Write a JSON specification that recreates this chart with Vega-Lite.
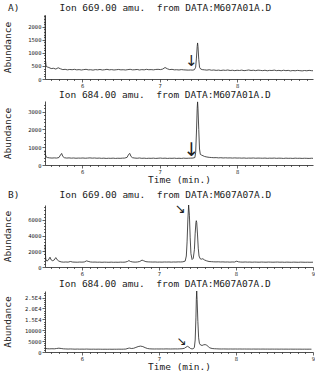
{
"$schema": "https://vega.github.io/schema/vega-lite/v6.json",
"padding": {"left": 2, "top": 2, "right": 1, "bottom": 0},
"spacing": 6,
"datasets": {
"a1": [{"t":5.52,"v":2450},{"t":5.523,"v":1500},{"t":5.527,"v":700},{"t":5.535,"v":480},{"t":5.55,"v":460},{"t":5.57,"v":440},{"t":5.6,"v":400},{"t":5.63,"v":410},{"t":5.66,"v":380},{"t":5.69,"v":430},{"t":5.72,"v":390},{"t":5.75,"v":360},{"t":5.78,"v":370},{"t":5.81,"v":350},{"t":5.84,"v":365},{"t":5.87,"v":355},{"t":5.9,"v":370},{"t":5.93,"v":350},{"t":5.96,"v":360},{"t":5.99,"v":345},{"t":6.02,"v":360},{"t":6.05,"v":370},{"t":6.08,"v":350},{"t":6.11,"v":355},{"t":6.14,"v":340},{"t":6.17,"v":360},{"t":6.2,"v":350},{"t":6.23,"v":365},{"t":6.26,"v":345},{"t":6.29,"v":355},{"t":6.32,"v":370},{"t":6.35,"v":350},{"t":6.38,"v":360},{"t":6.41,"v":345},{"t":6.44,"v":355},{"t":6.47,"v":365},{"t":6.5,"v":350},{"t":6.53,"v":355},{"t":6.56,"v":345},{"t":6.59,"v":360},{"t":6.62,"v":370},{"t":6.65,"v":350},{"t":6.68,"v":355},{"t":6.71,"v":365},{"t":6.74,"v":345},{"t":6.77,"v":360},{"t":6.8,"v":350},{"t":6.83,"v":370},{"t":6.86,"v":355},{"t":6.89,"v":360},{"t":6.92,"v":350},{"t":6.95,"v":365},{"t":6.98,"v":370},{"t":7.01,"v":360},{"t":7.04,"v":380},{"t":7.07,"v":440},{"t":7.1,"v":390},{"t":7.13,"v":360},{"t":7.16,"v":370},{"t":7.19,"v":350},{"t":7.22,"v":355},{"t":7.25,"v":345},{"t":7.28,"v":360},{"t":7.31,"v":350},{"t":7.34,"v":345},{"t":7.37,"v":340},{"t":7.4,"v":345},{"t":7.43,"v":340},{"t":7.45,"v":360},{"t":7.465,"v":450},{"t":7.475,"v":800},{"t":7.485,"v":1250},{"t":7.49,"v":1380},{"t":7.495,"v":1250},{"t":7.505,"v":750},{"t":7.515,"v":450},{"t":7.53,"v":380},{"t":7.55,"v":360},{"t":7.58,"v":350},{"t":7.61,"v":340},{"t":7.64,"v":355},{"t":7.67,"v":335},{"t":7.7,"v":345},{"t":7.73,"v":330},{"t":7.76,"v":340},{"t":7.79,"v":325},{"t":7.82,"v":340},{"t":7.85,"v":330},{"t":7.88,"v":345},{"t":7.91,"v":325},{"t":7.94,"v":335},{"t":7.97,"v":320},{"t":8.0,"v":335},{"t":8.03,"v":325},{"t":8.06,"v":340},{"t":8.09,"v":320},{"t":8.12,"v":330},{"t":8.15,"v":345},{"t":8.18,"v":325},{"t":8.21,"v":335},{"t":8.24,"v":320},{"t":8.27,"v":340},{"t":8.3,"v":330},{"t":8.33,"v":320},{"t":8.36,"v":335},{"t":8.39,"v":315},{"t":8.42,"v":330},{"t":8.45,"v":325},{"t":8.48,"v":340},{"t":8.51,"v":320},{"t":8.54,"v":330},{"t":8.57,"v":315},{"t":8.6,"v":335},{"t":8.63,"v":320},{"t":8.66,"v":330},{"t":8.69,"v":310},{"t":8.72,"v":325},{"t":8.75,"v":315},{"t":8.78,"v":330},{"t":8.81,"v":320},{"t":8.84,"v":310},{"t":8.87,"v":325},{"t":8.9,"v":315},{"t":8.93,"v":330},{"t":8.96,"v":320},{"t":8.98,"v":315}],
"a2": [{"t":5.52,"v":820},{"t":5.525,"v":600},{"t":5.535,"v":450},{"t":5.55,"v":420},{"t":5.58,"v":400},{"t":5.61,"v":390},{"t":5.64,"v":400},{"t":5.67,"v":390},{"t":5.7,"v":420},{"t":5.72,"v":560},{"t":5.735,"v":650},{"t":5.75,"v":480},{"t":5.77,"v":410},{"t":5.8,"v":390},{"t":5.83,"v":400},{"t":5.86,"v":385},{"t":5.89,"v":395},{"t":5.92,"v":380},{"t":5.95,"v":390},{"t":5.98,"v":385},{"t":6.01,"v":395},{"t":6.04,"v":380},{"t":6.07,"v":390},{"t":6.1,"v":400},{"t":6.13,"v":385},{"t":6.16,"v":395},{"t":6.19,"v":380},{"t":6.22,"v":390},{"t":6.25,"v":375},{"t":6.28,"v":385},{"t":6.31,"v":370},{"t":6.34,"v":380},{"t":6.37,"v":375},{"t":6.4,"v":385},{"t":6.43,"v":370},{"t":6.46,"v":380},{"t":6.49,"v":375},{"t":6.52,"v":385},{"t":6.55,"v":390},{"t":6.58,"v":430},{"t":6.6,"v":600},{"t":6.615,"v":650},{"t":6.63,"v":480},{"t":6.65,"v":410},{"t":6.68,"v":390},{"t":6.71,"v":380},{"t":6.74,"v":395},{"t":6.77,"v":375},{"t":6.8,"v":385},{"t":6.83,"v":370},{"t":6.86,"v":380},{"t":6.89,"v":375},{"t":6.92,"v":385},{"t":6.95,"v":370},{"t":6.98,"v":380},{"t":7.01,"v":390},{"t":7.04,"v":375},{"t":7.07,"v":385},{"t":7.1,"v":370},{"t":7.13,"v":380},{"t":7.16,"v":375},{"t":7.19,"v":385},{"t":7.22,"v":370},{"t":7.25,"v":380},{"t":7.28,"v":370},{"t":7.31,"v":385},{"t":7.34,"v":375},{"t":7.37,"v":380},{"t":7.4,"v":385},{"t":7.43,"v":390},{"t":7.455,"v":420},{"t":7.465,"v":700},{"t":7.475,"v":1800},{"t":7.485,"v":3200},{"t":7.49,"v":3550},{"t":7.495,"v":3200},{"t":7.505,"v":2000},{"t":7.515,"v":900},{"t":7.525,"v":600},{"t":7.54,"v":560},{"t":7.56,"v":520},{"t":7.58,"v":480},{"t":7.61,"v":450},{"t":7.64,"v":430},{"t":7.67,"v":420},{"t":7.7,"v":410},{"t":7.73,"v":415},{"t":7.76,"v":400},{"t":7.79,"v":410},{"t":7.82,"v":395},{"t":7.85,"v":405},{"t":7.88,"v":395},{"t":7.91,"v":400},{"t":7.94,"v":390},{"t":7.97,"v":400},{"t":8.0,"v":390},{"t":8.03,"v":395},{"t":8.06,"v":385},{"t":8.09,"v":395},{"t":8.12,"v":380},{"t":8.15,"v":390},{"t":8.18,"v":385},{"t":8.21,"v":395},{"t":8.24,"v":380},{"t":8.27,"v":390},{"t":8.3,"v":385},{"t":8.33,"v":380},{"t":8.36,"v":390},{"t":8.39,"v":375},{"t":8.42,"v":385},{"t":8.45,"v":380},{"t":8.48,"v":390},{"t":8.51,"v":375},{"t":8.54,"v":385},{"t":8.57,"v":380},{"t":8.6,"v":370},{"t":8.63,"v":385},{"t":8.66,"v":375},{"t":8.69,"v":380},{"t":8.72,"v":370},{"t":8.75,"v":385},{"t":8.78,"v":375},{"t":8.81,"v":380},{"t":8.84,"v":370},{"t":8.87,"v":380},{"t":8.9,"v":375},{"t":8.93,"v":370},{"t":8.96,"v":380},{"t":8.98,"v":375}],
"b1": [{"t":5.52,"v":2800},{"t":5.525,"v":1800},{"t":5.53,"v":1000},{"t":5.545,"v":750},{"t":5.565,"v":900},{"t":5.585,"v":1250},{"t":5.6,"v":900},{"t":5.62,"v":800},{"t":5.64,"v":900},{"t":5.66,"v":1200},{"t":5.68,"v":900},{"t":5.7,"v":750},{"t":5.73,"v":650},{"t":5.76,"v":620},{"t":5.79,"v":640},{"t":5.82,"v":620},{"t":5.85,"v":700},{"t":5.88,"v":630},{"t":5.91,"v":620},{"t":5.94,"v":610},{"t":5.97,"v":630},{"t":6.0,"v":620},{"t":6.03,"v":640},{"t":6.06,"v":780},{"t":6.08,"v":720},{"t":6.11,"v":640},{"t":6.14,"v":620},{"t":6.17,"v":630},{"t":6.2,"v":610},{"t":6.23,"v":620},{"t":6.26,"v":600},{"t":6.29,"v":620},{"t":6.32,"v":610},{"t":6.35,"v":600},{"t":6.38,"v":620},{"t":6.41,"v":600},{"t":6.44,"v":610},{"t":6.47,"v":600},{"t":6.5,"v":620},{"t":6.53,"v":610},{"t":6.56,"v":620},{"t":6.59,"v":700},{"t":6.61,"v":820},{"t":6.63,"v":700},{"t":6.66,"v":640},{"t":6.69,"v":620},{"t":6.72,"v":640},{"t":6.75,"v":700},{"t":6.78,"v":880},{"t":6.8,"v":800},{"t":6.83,"v":680},{"t":6.86,"v":650},{"t":6.89,"v":640},{"t":6.92,"v":630},{"t":6.95,"v":640},{"t":6.98,"v":620},{"t":7.01,"v":630},{"t":7.04,"v":620},{"t":7.07,"v":640},{"t":7.1,"v":630},{"t":7.13,"v":640},{"t":7.16,"v":620},{"t":7.19,"v":640},{"t":7.22,"v":630},{"t":7.25,"v":650},{"t":7.28,"v":640},{"t":7.31,"v":660},{"t":7.34,"v":750},{"t":7.355,"v":1400},{"t":7.365,"v":3200},{"t":7.375,"v":6000},{"t":7.385,"v":7900},{"t":7.395,"v":6600},{"t":7.405,"v":3800},{"t":7.415,"v":1700},{"t":7.43,"v":950},{"t":7.445,"v":1100},{"t":7.46,"v":2200},{"t":7.47,"v":4300},{"t":7.48,"v":5700},{"t":7.485,"v":5900},{"t":7.49,"v":5700},{"t":7.5,"v":4200},{"t":7.51,"v":2400},{"t":7.52,"v":1400},{"t":7.535,"v":1050},{"t":7.55,"v":1000},{"t":7.57,"v":1050},{"t":7.59,"v":900},{"t":7.62,"v":780},{"t":7.65,"v":700},{"t":7.68,"v":680},{"t":7.71,"v":660},{"t":7.74,"v":650},{"t":7.77,"v":660},{"t":7.8,"v":640},{"t":7.83,"v":650},{"t":7.86,"v":630},{"t":7.89,"v":640},{"t":7.92,"v":620},{"t":7.95,"v":640},{"t":7.98,"v":630},{"t":8.01,"v":740},{"t":8.03,"v":660},{"t":8.06,"v":630},{"t":8.09,"v":620},{"t":8.12,"v":640},{"t":8.15,"v":620},{"t":8.18,"v":630},{"t":8.21,"v":610},{"t":8.24,"v":630},{"t":8.27,"v":620},{"t":8.3,"v":610},{"t":8.33,"v":630},{"t":8.36,"v":620},{"t":8.39,"v":610},{"t":8.42,"v":630},{"t":8.45,"v":620},{"t":8.48,"v":610},{"t":8.51,"v":620},{"t":8.54,"v":630},{"t":8.57,"v":610},{"t":8.6,"v":620},{"t":8.63,"v":600},{"t":8.66,"v":620},{"t":8.69,"v":610},{"t":8.72,"v":600},{"t":8.75,"v":620},{"t":8.78,"v":610},{"t":8.81,"v":600},{"t":8.84,"v":620},{"t":8.87,"v":610},{"t":8.9,"v":600},{"t":8.93,"v":610},{"t":8.96,"v":600},{"t":9.0,"v":610}],
"b2": [{"t":5.52,"v":2000},{"t":5.53,"v":1600},{"t":5.55,"v":1500},{"t":5.58,"v":1450},{"t":5.61,"v":1500},{"t":5.64,"v":1450},{"t":5.67,"v":1600},{"t":5.7,"v":1750},{"t":5.73,"v":1600},{"t":5.76,"v":1450},{"t":5.79,"v":1400},{"t":5.82,"v":1350},{"t":5.85,"v":1400},{"t":5.88,"v":1350},{"t":5.91,"v":1300},{"t":5.94,"v":1350},{"t":5.97,"v":1300},{"t":6.0,"v":1320},{"t":6.03,"v":1300},{"t":6.06,"v":1350},{"t":6.09,"v":1300},{"t":6.12,"v":1280},{"t":6.15,"v":1300},{"t":6.18,"v":1270},{"t":6.21,"v":1300},{"t":6.24,"v":1280},{"t":6.27,"v":1260},{"t":6.3,"v":1280},{"t":6.33,"v":1260},{"t":6.36,"v":1280},{"t":6.39,"v":1260},{"t":6.42,"v":1280},{"t":6.45,"v":1270},{"t":6.48,"v":1300},{"t":6.51,"v":1280},{"t":6.54,"v":1300},{"t":6.57,"v":1350},{"t":6.6,"v":1700},{"t":6.62,"v":1800},{"t":6.64,"v":1600},{"t":6.67,"v":1700},{"t":6.7,"v":2100},{"t":6.73,"v":2500},{"t":6.76,"v":2700},{"t":6.79,"v":2500},{"t":6.82,"v":2000},{"t":6.85,"v":1600},{"t":6.88,"v":1450},{"t":6.91,"v":1400},{"t":6.94,"v":1380},{"t":6.97,"v":1400},{"t":7.0,"v":1380},{"t":7.03,"v":1400},{"t":7.06,"v":1380},{"t":7.09,"v":1420},{"t":7.12,"v":1400},{"t":7.15,"v":1380},{"t":7.18,"v":1400},{"t":7.21,"v":1420},{"t":7.24,"v":1400},{"t":7.27,"v":1450},{"t":7.3,"v":1500},{"t":7.33,"v":1700},{"t":7.35,"v":2200},{"t":7.37,"v":2600},{"t":7.39,"v":2200},{"t":7.41,"v":1600},{"t":7.43,"v":1400},{"t":7.45,"v":1600},{"t":7.46,"v":2200},{"t":7.47,"v":5500},{"t":7.48,"v":16000},{"t":7.485,"v":24000},{"t":7.49,"v":28000},{"t":7.495,"v":24000},{"t":7.505,"v":14000},{"t":7.515,"v":6500},{"t":7.525,"v":4000},{"t":7.54,"v":3200},{"t":7.56,"v":3000},{"t":7.58,"v":3300},{"t":7.6,"v":3400},{"t":7.62,"v":3100},{"t":7.64,"v":2500},{"t":7.66,"v":1900},{"t":7.69,"v":1600},{"t":7.72,"v":1500},{"t":7.75,"v":1450},{"t":7.78,"v":1400},{"t":7.81,"v":1380},{"t":7.84,"v":1400},{"t":7.87,"v":1380},{"t":7.9,"v":1360},{"t":7.93,"v":1380},{"t":7.96,"v":1360},{"t":7.99,"v":1380},{"t":8.02,"v":1360},{"t":8.05,"v":1380},{"t":8.08,"v":1350},{"t":8.11,"v":1370},{"t":8.14,"v":1350},{"t":8.17,"v":1360},{"t":8.2,"v":1340},{"t":8.23,"v":1360},{"t":8.26,"v":1340},{"t":8.29,"v":1350},{"t":8.32,"v":1330},{"t":8.35,"v":1350},{"t":8.38,"v":1330},{"t":8.41,"v":1340},{"t":8.44,"v":1320},{"t":8.47,"v":1340},{"t":8.5,"v":1320},{"t":8.53,"v":1330},{"t":8.56,"v":1310},{"t":8.59,"v":1330},{"t":8.62,"v":1310},{"t":8.65,"v":1320},{"t":8.68,"v":1300},{"t":8.71,"v":1320},{"t":8.74,"v":1300},{"t":8.77,"v":1310},{"t":8.8,"v":1300},{"t":8.83,"v":1310},{"t":8.86,"v":1290},{"t":8.89,"v":1300},{"t":8.92,"v":1290},{"t":8.95,"v":1300},{"t":8.98,"v":1290}]
},
"vconcat": [
{
"spacing": 0,
"vconcat": [
{
"width": 268, "height": 64,
"title": {"text": "A)\u00a0\u00a0\u00a0\u00a0\u00a0\u00a0\u00a0Ion 669.00 amu.\u00a0 from DATA:M607A01A.D", "dx": -37},
"resolve": {"axis": {"x": "independent", "y": "independent"}},
"layer": [
{"data": {"name": "a1"}, "mark": {"type": "line", "stroke": "#222", "strokeWidth": 0.8},
"encoding": {
"x": {"field": "t", "type": "quantitative", "scale": {"domain": [5.52, 8.98], "nice": false, "zero": false}, "axis": {"title": null, "orient": "bottom", "values": [6, 7, 8], "format": "d"}},
"y": {"field": "v", "type": "quantitative", "scale": {"domain": [0, 2450], "nice": false}, "axis": {"title": "Abundance", "orient": "left", "values": [0, 500, 1000, 1500, 2000], "format": "d"}}
}},
{"data": {"values": [{"t": 7.41, "v": 480, "s": "↓"}]}, "mark": {"type": "text", "font": "DejaVu Sans", "fontSize": 15, "baseline": "alphabetic", "color": "#222"},
"encoding": {
"x": {"field": "t", "type": "quantitative", "axis": {"title": null, "orient": "bottom", "labels": false, "domain": false, "tickSize": 1.5, "values": [5.6,5.7,5.8,5.9,6.1,6.2,6.3,6.4,6.5,6.6,6.7,6.8,6.9,7.1,7.2,7.3,7.4,7.5,7.6,7.7,7.8,7.9,8.1,8.2,8.3,8.4,8.5,8.6,8.7,8.8,8.9]}},
"y": {"field": "v", "type": "quantitative", "axis": {"title": null, "orient": "left", "labels": false, "domain": false, "tickSize": 1.5, "values": [100,200,300,400,600,700,800,900,1100,1200,1300,1400,1600,1700,1800,1900,2100,2200,2300,2400]}},
"text": {"field": "s"}}}
]
},
{
"width": 268, "height": 64,
"title": {"text": "Ion 684.00 amu.\u00a0 from DATA:M607A01A.D", "dx": 14},
"resolve": {"axis": {"x": "independent", "y": "independent"}},
"layer": [
{"data": {"name": "a2"}, "mark": {"type": "line", "stroke": "#222", "strokeWidth": 0.8},
"encoding": {
"x": {"field": "t", "type": "quantitative", "scale": {"domain": [5.52, 8.98], "nice": false, "zero": false}, "axis": {"title": "Time (min.)", "orient": "bottom", "values": [6, 7, 8], "format": "d"}},
"y": {"field": "v", "type": "quantitative", "scale": {"domain": [0, 3600], "nice": false}, "axis": {"title": "Abundance", "orient": "left", "values": [0, 1000, 2000, 3000], "format": "d"}}
}},
{"data": {"values": [{"t": 7.41, "v": 500, "s": "↓"}]}, "mark": {"type": "text", "font": "DejaVu Sans", "fontSize": 19, "baseline": "alphabetic", "color": "#222"},
"encoding": {
"x": {"field": "t", "type": "quantitative", "axis": {"title": null, "orient": "bottom", "labels": false, "domain": false, "tickSize": 1.5, "values": [5.6,5.7,5.8,5.9,6.1,6.2,6.3,6.4,6.5,6.6,6.7,6.8,6.9,7.1,7.2,7.3,7.4,7.5,7.6,7.7,7.8,7.9,8.1,8.2,8.3,8.4,8.5,8.6,8.7,8.8,8.9]}},
"y": {"field": "v", "type": "quantitative", "axis": {"title": null, "orient": "left", "labels": false, "domain": false, "tickSize": 1.5, "values": [200,400,600,800,1200,1400,1600,1800,2200,2400,2600,2800,3200,3400]}},
"text": {"field": "s"}}}
]
}
]
},
{
"spacing": 1,
"vconcat": [
{
"width": 268, "height": 62,
"title": {"text": "B)\u00a0\u00a0\u00a0\u00a0\u00a0\u00a0\u00a0Ion 669.00 amu.\u00a0 from DATA:M607A07A.D", "dx": -37, "offset": 3},
"resolve": {"axis": {"x": "independent", "y": "independent"}},
"layer": [
{"data": {"name": "b1"}, "mark": {"type": "line", "stroke": "#222", "strokeWidth": 0.8},
"encoding": {
"x": {"field": "t", "type": "quantitative", "scale": {"domain": [5.52, 9.0], "nice": false, "zero": false}, "axis": {"title": null, "orient": "bottom", "values": [6, 7, 8, 9], "format": "d"}},
"y": {"field": "v", "type": "quantitative", "scale": {"domain": [0, 7900], "nice": false}, "axis": {"title": "Abundance", "orient": "left", "values": [0, 2000, 4000, 6000], "format": "d"}}
}},
{"data": {"values": [{"t": 7.345, "v": 6900, "s": "↘"}]}, "mark": {"type": "text", "font": "DejaVu Sans", "fontSize": 13, "baseline": "alphabetic", "align": "right", "color": "#222"},
"encoding": {
"x": {"field": "t", "type": "quantitative", "axis": {"title": null, "orient": "bottom", "labels": false, "domain": false, "tickSize": 1.5, "values": [5.6,5.7,5.8,5.9,6.1,6.2,6.3,6.4,6.5,6.6,6.7,6.8,6.9,7.1,7.2,7.3,7.4,7.5,7.6,7.7,7.8,7.9,8.1,8.2,8.3,8.4,8.5,8.6,8.7,8.8,8.9]}},
"y": {"field": "v", "type": "quantitative", "axis": {"title": null, "orient": "left", "labels": false, "domain": false, "tickSize": 1.5, "values": [400,800,1200,1600,2400,2800,3200,3600,4400,4800,5200,5600,6400,6800,7200,7600]}},
"text": {"field": "s"}}}
]
},
{
"width": 268, "height": 61,
"title": {"text": "Ion 684.00 amu.\u00a0 from DATA:M607A07A.D", "dx": 14},
"resolve": {"axis": {"x": "independent", "y": "independent"}},
"layer": [
{"data": {"name": "b2"}, "mark": {"type": "line", "stroke": "#222", "strokeWidth": 0.8},
"encoding": {
"x": {"field": "t", "type": "quantitative", "scale": {"domain": [5.52, 9.0], "nice": false, "zero": false}, "axis": {"title": "Time (min.)", "orient": "bottom", "values": [6, 7, 8, 9], "format": "d"}},
"y": {"field": "v", "type": "quantitative", "scale": {"domain": [0, 28000], "nice": false}, "axis": {"title": "Abundance", "orient": "left", "values": [0, 5000, 10000, 15000, 20000, 25000], "labelExpr": "datum.value >= 15000 ? format(datum.value / 10000, '.1f') + 'E4' : format(datum.value, 'd')"}}
}},
{"data": {"values": [{"t": 7.36, "v": 3000, "s": "↘"}]}, "mark": {"type": "text", "font": "DejaVu Sans", "fontSize": 12, "baseline": "alphabetic", "align": "right", "color": "#222"},
"encoding": {
"x": {"field": "t", "type": "quantitative", "axis": {"title": null, "orient": "bottom", "labels": false, "domain": false, "tickSize": 1.5, "values": [5.6,5.7,5.8,5.9,6.1,6.2,6.3,6.4,6.5,6.6,6.7,6.8,6.9,7.1,7.2,7.3,7.4,7.5,7.6,7.7,7.8,7.9,8.1,8.2,8.3,8.4,8.5,8.6,8.7,8.8,8.9]}},
"y": {"field": "v", "type": "quantitative", "axis": {"title": null, "orient": "left", "labels": false, "domain": false, "tickSize": 1.5, "values": [1000,2000,3000,4000,6000,7000,8000,9000,11000,12000,13000,14000,16000,17000,18000,19000,21000,22000,23000,24000,26000,27000]}},
"text": {"field": "s"}}}
]
}
]
}
],
"config": {
"view": {"stroke": null},
"font": "DejaVu Sans Mono",
"title": {"font": "DejaVu Sans Mono", "fontSize": 9.5, "fontWeight": "normal", "color": "#222", "anchor": "start", "frame": "group", "offset": 1},
"axis": {"grid": false, "domainColor": "#222", "domainWidth": 0.8, "tickColor": "#222", "tickWidth": 0.7, "tickSize": 3, "labelColor": "#222", "labelFont": "DejaVu Sans Mono", "labelFontSize": 5.5, "labelPadding": 1, "titleColor": "#222", "titleFont": "DejaVu Sans Mono", "titleFontSize": 9.5, "titleFontWeight": "normal", "labelFlush": false},
"axisY": {"titleX": -33, "titlePadding": 4},
"axisX": {"titlePadding": 0}
}
}
